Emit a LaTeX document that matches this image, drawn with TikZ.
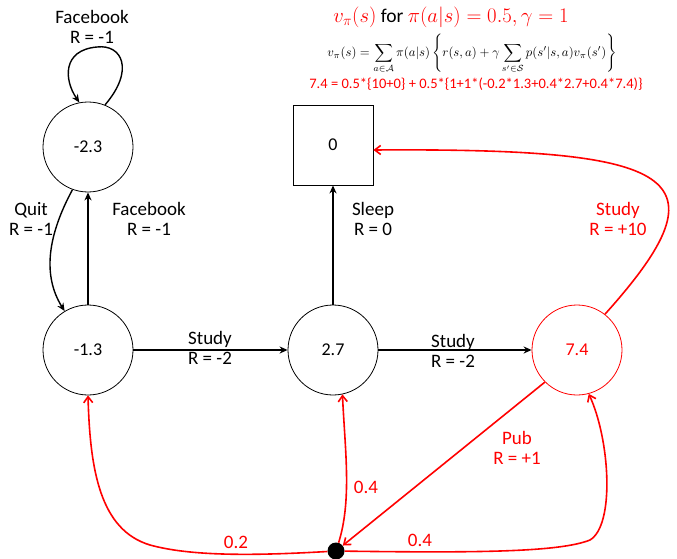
\documentclass[tikz,border=0pt]{standalone}
\usepackage{amsmath,amssymb}
\usepackage{graphicx}
\usepackage{fontspec}
\setmainfont{Carlito}
\usetikzlibrary{arrows.meta}
\begin{document}
\begin{tikzpicture}[x=1pt,y=-1pt,
  state/.style={circle,draw,line width=0.8pt,minimum size=90pt,inner sep=0pt,font=\fontsize{18}{20}\selectfont},
  sqbox/.style={rectangle,draw,line width=0.8pt,minimum size=80pt,inner sep=0pt,font=\fontsize{18}{20}\selectfont},
  lbl/.style={align=center,inner sep=0pt,font=\fontsize{19}{20}\selectfont},
  blk/.style={line width=1.4pt,-{Stealth[length=8pt,width=7pt]}},
  redarr/.style={red,line width=1.6pt,-{Straight Barb[length=6pt,width=9pt]}}
]
\useasboundingbox (0,0) rectangle (677,559);

% states
\node[state] (s1) at (88,147) {-2.3};
\node[state] (s2) at (88,350) {-1.3};
\node[state] (s3) at (333,350) {2.7};
\node[state,draw=red,text=red] (s4) at (577,350) {7.4};
\node[sqbox] (s0) at (333,145) {0};
\node[circle,fill=black,minimum size=17pt,inner sep=0pt] (dot) at (336,551) {};

% header
\node[inner sep=0pt,font=\fontsize{19.5}{22}\selectfont] (h1) at (451,17)
  {\textcolor{red}{$v_\pi(s)$} for \textcolor{red}{$\pi(a|s)=0.5,\gamma=1$}};
\node[inner sep=0pt] (h2) at (472,54)
  {\resizebox{289pt}{!}{$\displaystyle v_\pi(s)=\sum_{a\in\mathcal{A}}\pi(a|s)\left\{r(s,a)+\gamma\sum_{s'\in\mathcal{S}}p(s'|s,a)v_\pi(s')\right\}$}};
\node[inner sep=0pt,text=red,font=\fontsize{14.5}{16}\selectfont] (h3) at (476,84)
  {7.4 = 0.5*\{10+0\} + 0.5*\{1+1*(-0.2*1.3+0.4*2.7+0.4*7.4)\}};

% black edges
\draw[blk] (s1.68) .. controls (135,70) and (122,44) .. (97,47)
  .. controls (62,50) and (64,80) .. (s1.101);
\draw[blk] (s1.250) .. controls (48,235) and (42,275) .. (s2.121);
\draw[blk] (s2.north) -- (s1.south);
\draw[blk] (s2.east) -- (s3.west);
\draw[blk] (s3.east) -- (s4.west);
\draw[blk] (s3.north) -- (s0.south);

% red edges
\draw[redarr] (s4.52) .. controls (730,175) and (680,148) .. ([yshift=-5pt]s0.east);
\draw[redarr] (s4.225) -- (dot);
\draw[redarr] (dot) .. controls (250,556) and (190,556) .. (150,545)
  .. controls (100,530) and (90,470) .. (s2.south);
\draw[redarr] (dot) .. controls (352,500) and (345,450) .. (s3.-78);
\draw[redarr] (dot) .. controls (480,553) and (560,552) .. (590,540)
  .. controls (615,525) and (610,440) .. (s4.-75);

% labels
\node[lbl] (lfb1) at (92,27) {Facebook\\R = -1};
\node[lbl] (lquit) at (31,219) {Quit\\R = -1};
\node[lbl] (lfb2) at (149,219) {Facebook\\R = -1};
\node[lbl] (lst1) at (210,348) {Study\\R = -2};
\node[lbl] (lst2) at (453,351) {Study\\R = -2};
\node[lbl] (lsl) at (373,219) {Sleep\\R = 0};
\node[lbl,text=red] (lst3) at (618,219) {Study\\R = +10};
\node[lbl,text=red] (lpub) at (517,448) {Pub\\R = +1};
\node[lbl,text=red] (p1) at (366,487) {0.4};
\node[lbl,text=red] (p2) at (420,540) {0.4};
\node[lbl,text=red] (p3) at (236,542) {0.2};
\end{tikzpicture}
\end{document}
